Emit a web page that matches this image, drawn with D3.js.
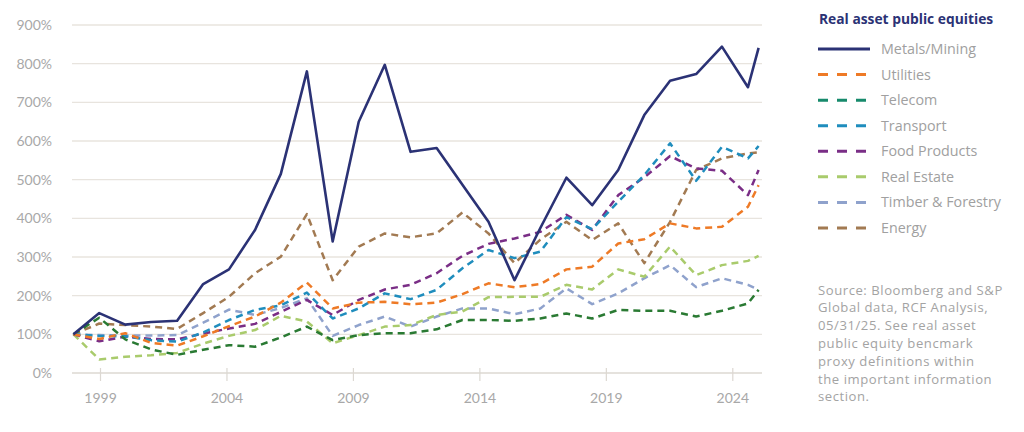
<!DOCTYPE html>
<html>
<head>
<meta charset="utf-8">
<script src="https://cdn.jsdelivr.net/npm/d3@7"></script>
<style>
  body { margin: 0; background: #fff; }
  svg { display: block; font-family: Lato, "Open Sans", sans-serif; }
</style>
</head>
<body>
<div id="scene"></div>
<script>
var dates = [1997.95, 1998.97, 2000.0, 2001.02, 2002.05, 2003.08, 2004.1, 2005.13, 2006.15,
  2007.18, 2008.2, 2009.23, 2010.26, 2011.28, 2012.31, 2013.33, 2014.36, 2015.39, 2016.41,
  2017.44, 2018.46, 2019.49, 2020.52, 2021.54, 2022.57, 2023.59, 2024.62, 2025.04];

var seriesNames = ["Metals/Mining", "Utilities", "Telecom", "Transport", "Food Products",
  "Real Estate", "Timber & Forestry", "Energy"];

// cumulative value, % of start
var metalsMining = [100, 155, 125, 132, 135, 230, 268, 370, 515, 780, 340, 650, 797, 572, 582, 487,
  391, 240, 375, 505, 434, 525, 667, 756, 773, 844, 739, 841];
var utilities = [100, 88, 103, 78, 71, 95, 121, 146, 182, 234, 167, 182, 184, 178, 182, 204,
  232, 222, 230, 268, 275, 335, 346, 387, 374, 378, 430, 486];
var telecom = [100, 143, 87, 61, 47, 60, 72, 68, 92, 120, 85, 98, 103, 103, 113, 137,
  137, 135, 141, 154, 141, 163, 161, 161, 146, 161, 180, 215];
var transport = [100, 96, 95, 85, 81, 105, 137, 163, 175, 208, 141, 167, 206, 191, 215, 271,
  318, 297, 314, 403, 372, 443, 512, 594, 497, 585, 555, 587];
var foodProducts = [100, 82, 94, 88, 87, 102, 115, 127, 158, 189, 150, 189, 216, 228, 258, 303,
  334, 348, 365, 409, 370, 460, 506, 561, 529, 523, 460, 525];
var realEstate = [100, 35, 42, 46, 52, 76, 96, 111, 148, 133, 77, 98, 120, 124, 150, 159,
  196, 197, 197, 228, 216, 268, 249, 327, 253, 279, 290, 303];
var timberForestry = [100, 98, 97, 97, 98, 130, 164, 150, 168, 193, 96, 124, 146, 120, 146, 167,
  167, 152, 167, 219, 178, 206, 245, 279, 222, 245, 228, 215];
var energy = [100, 128, 124, 120, 114, 155, 197, 258, 301, 411, 240, 327, 361, 351, 361, 415,
  361, 284, 345, 391, 344, 387, 284, 391, 525, 555, 568, 571];

var yTicks = [0, 100, 200, 300, 400, 500, 600, 700, 800, 900];
var xTicks = [1999, 2004, 2009, 2014, 2019, 2024];

var sourceLines = ["Source: Bloomberg and S&P", "Global data, RCF Analysis,",
  "05/31/25. See real asset", "public equity bencmark", "proxy definitions within",
  "the important information", "section."];

var ctx = {
  w: 1024,
  h: 432,
  left: 72,
  right: 762,
  top: 25,
  bottom: 373,
  colors: ["#2b3275", "#ee7a26", "#2a7a33", "#1f8dbd", "#7a2e86", "#a9cb6c", "#8fa2cc", "#a27a52"],
  legendColors: ["#2b3275", "#ee7a26", "#178a6c", "#1f8dbd", "#7a2e86", "#a9cb6c", "#8fa2cc", "#a27a52"],
  sideFont: "'Open Sans', Lato, sans-serif",
};

var createScene = function() {
  var svg = d3.select("#scene").append("svg")
    .attr("width", ctx.w)
    .attr("height", ctx.h);

  var x = d3.scaleLinear().domain([1999, 2024]).range([100, 732.3]);
  var y = d3.scaleLinear().domain([0, 900]).range([ctx.bottom, ctx.top]);

  // gridlines
  svg.append("g").selectAll("line")
    .data(yTicks)
    .enter()
    .append("line")
    .attr("x1", ctx.left)
    .attr("x2", ctx.right)
    .attr("y1", function(d) { return y(d); })
    .attr("y2", function(d) { return y(d); })
    .style("stroke", function(d) { return d == 0 ? "#dcd8d2" : "#e8e4de"; })
    .style("stroke-width", 1.3);

  // y labels
  svg.append("g").selectAll("text")
    .data(yTicks)
    .enter()
    .append("text")
    .attr("x", 52)
    .attr("y", function(d) { return y(d); })
    .attr("dy", "0.35em")
    .attr("text-anchor", "end")
    .style("font-size", "14px")
    .style("fill", "#a8a8a8")
    .text(function(d) { return d + "%"; });

  // x axis
  var xAxis = d3.axisBottom(x)
    .tickValues(xTicks)
    .tickFormat(d3.format("d"))
    .tickSize(13)
    .tickPadding(12);
  var gx = svg.append("g")
    .attr("transform", "translate(0," + (ctx.bottom - 5) + ")")
    .call(xAxis);
  gx.select(".domain").remove();
  gx.selectAll(".tick line").style("stroke", "#dcd8d2").style("stroke-width", 1.2);
  gx.selectAll(".tick text")
    .style("font-size", "14px")
    .style("font-family", "Lato, sans-serif")
    .style("fill", "#a8a8a8");

  var allSeries = [metalsMining, utilities, telecom, transport, foodProducts, realEstate, timberForestry, energy];

  var line = d3.line()
    .x(function(d, i) { return x(dates[i]); })
    .y(function(d) { return y(d); });

  // draw back to front so metals sits on top
  for (var s = allSeries.length - 1; s >= 0; s--) {
    svg.append("path")
      .datum(allSeries[s])
      .attr("d", line)
      .style("fill", "none")
      .style("stroke", ctx.colors[s])
      .style("stroke-width", s == 0 ? 2.6 : 2.5)
      .style("stroke-dasharray", s == 0 ? null : "7,5")
      .style("stroke-linejoin", "round");
  }

  // legend
  var lg = svg.append("g").style("font-family", ctx.sideFont);
  lg.append("text")
    .attr("x", 819)
    .attr("y", 24)
    .style("font-size", "13.8px")
    .style("font-weight", "bold")
    .style("fill", "#2b3275")
    .text("Real asset public equities");

  var rowY = d3.scaleLinear().domain([0, 7]).range([49, 228]);
  var rows = lg.selectAll(".row")
    .data(seriesNames)
    .enter()
    .append("g")
    .attr("transform", function(d, i) { return "translate(0," + rowY(i) + ")"; });

  rows.append("line")
    .attr("x1", 818)
    .attr("x2", 870)
    .style("stroke", function(d, i) { return ctx.legendColors[i]; })
    .style("stroke-width", 3)
    .style("stroke-dasharray", function(d, i) { return i == 0 ? null : "10,9"; });

  rows.append("text")
    .attr("x", 881)
    .attr("dy", "0.35em")
    .style("font-size", "14.3px")
    .style("fill", "#a0a0a0")
    .text(function(d) { return d; });

  // source note
  svg.append("g").style("font-family", ctx.sideFont)
    .selectAll("text")
    .data(sourceLines)
    .enter()
    .append("text")
    .attr("x", 818)
    .attr("y", function(d, i) { return 290 + i * 17.8; })
    .attr("dy", "0.35em")
    .style("font-size", "13.1px")
    .style("letter-spacing", "0.55px")
    .style("fill", "#a3a3a3")
    .text(function(d) { return d; });
};

createScene();
</script>
</body>
</html>
